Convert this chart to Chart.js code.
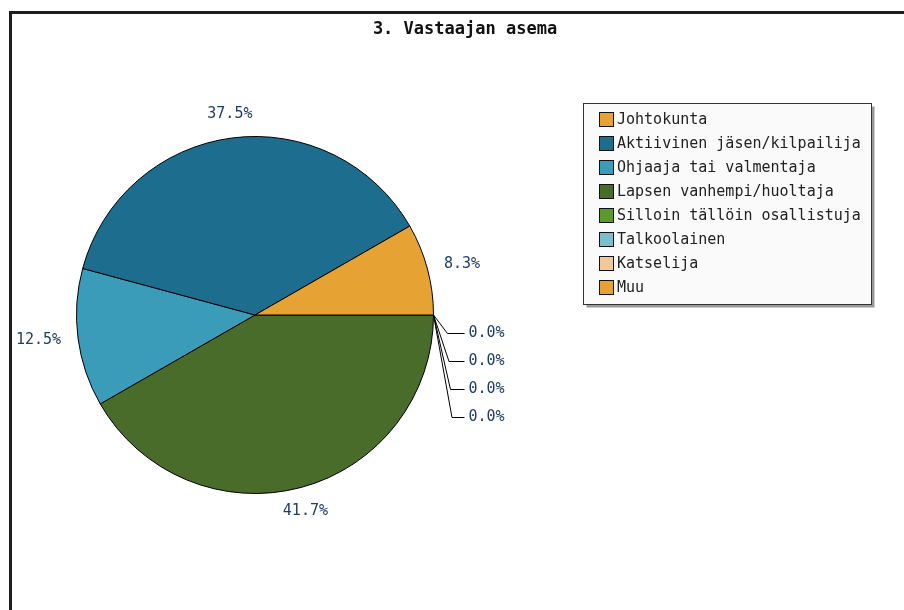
<!DOCTYPE html>
<html>
<head>
<meta charset="utf-8">
<script src="https://cdn.jsdelivr.net/npm/chart.js@4"></script>
<style>
html, body { margin: 0; padding: 0; background: #fff; }
#kaavio { display: block; }
</style>
</head>
<body>
<canvas id="kaavio" width="904" height="610"></canvas>
<script>
const otsikko = '3. Vastaajan asema';

const asemat = [
	'Johtokunta', 'Aktiivinen jäsen/kilpailija', 'Ohjaaja tai valmentaja',
	'Lapsen vanhempi/huoltaja', 'Silloin tällöin osallistuja', 'Talkoolainen',
	'Katselija', 'Muu'];

const osuudet = [8.3, 37.5, 12.5, 41.7, 0.0, 0.0, 0.0, 0.0];

const varit = ['#E6A232', '#1D6E8E', '#3A9CB8', '#4A6C2A', '#5C9A2E', '#7DBDCC', '#F2C89A', '#E8A030'];

// alkuperainen kuva kulkee vastapaivaan, Chart.js myotapaivaan -> kaannetaan jarjestys
const piirtoNimet = asemat.slice().reverse();
const piirtoArvot = osuudet.slice().reverse();
const piirtoVarit = varit.slice().reverse();

const fontti = '"DejaVu Sans Mono", monospace';

const kehys = {
	id: 'kehys',
	beforeDraw(chart) {
		const c = chart.ctx;
		c.save();
		c.fillStyle = '#fff';
		c.fillRect(0, 0, chart.width, chart.height);
		c.strokeStyle = '#1e1e1e';
		c.lineWidth = 3;
		c.beginPath();
		c.moveTo(10.5, chart.height);
		c.lineTo(10.5, 12.5);
		c.lineTo(chart.width, 12.5);
		c.stroke();
		c.fillStyle = '#111';
		c.font = 'bold 17px ' + fontti;
		c.textAlign = 'center';
		c.textBaseline = 'middle';
		c.fillText(otsikko, 465, 30);
		c.restore();
	}
};

const prosentit = {
	id: 'prosentit',
	afterDatasetsDraw(chart) {
		const c = chart.ctx;
		const meta = chart.getDatasetMeta(0);
		const arvot = chart.data.datasets[0].data;
		c.save();
		c.font = '15px ' + fontti;
		c.fillStyle = '#1f3d6b';
		c.strokeStyle = '#000';
		c.lineWidth = 1;
		let nollat = 0;
		meta.data.forEach((kaari, i) => {
			const p = kaari.getProps(['x', 'y', 'startAngle', 'endAngle', 'outerRadius'], true);
			const teksti = arvot[i].toFixed(1) + '%';
			const kulma = (p.startAngle + p.endAngle) / 2;
			const cos = Math.cos(kulma), sin = Math.sin(kulma);
			if (arvot[i] === 0) {
				const ex = p.x + p.outerRadius * cos;
				const ey = p.y + p.outerRadius * sin;
				const y = Math.round(ey + 18 + nollat * 28) + 0.5;
				c.beginPath();
				c.moveTo(ex, ey);
				c.lineTo(ex + 14 + nollat * 1.5, y);
				c.lineTo(ex + 31, y);
				c.stroke();
				c.textAlign = 'left';
				c.textBaseline = 'middle';
				c.fillText(teksti, ex + 35, y);
				nollat++;
				return;
			}
			const r = p.outerRadius + 17;
			c.textAlign = cos > 0.3 ? 'left' : (cos < -0.3 ? 'right' : 'center');
			c.textBaseline = sin > 0.3 ? 'top' : (sin < -0.3 ? 'bottom' : 'middle');
			c.fillText(teksti, p.x + r * cos, p.y + r * sin);
		});
		c.restore();
	}
};

const selite = {
	id: 'selite',
	afterDraw(chart) {
		const c = chart.ctx;
		const x = 583.5, y = 103.5, w = 288, h = 201;
		c.save();
		c.fillStyle = '#9a9a9a';
		c.fillRect(x + 3, y + 3, w, h);
		c.fillStyle = '#fafafa';
		c.fillRect(x, y, w, h);
		c.strokeStyle = '#333';
		c.lineWidth = 1;
		c.strokeRect(x, y, w, h);
		c.font = '15px ' + fontti;
		c.textAlign = 'left';
		c.textBaseline = 'middle';
		asemat.forEach((nimi, i) => {
			const ry = 112 + i * 24;
			c.fillStyle = varit[i];
			c.fillRect(599, ry, 15, 15);
			c.strokeStyle = '#111';
			c.strokeRect(599.5, ry + 0.5, 14, 14);
			c.fillStyle = '#222';
			c.fillText(nimi, 617, ry + 8);
		});
		c.restore();
	}
};

new Chart(document.getElementById('kaavio').getContext('2d'), {
	type: 'pie',
	data: {
		labels: piirtoNimet,
		datasets: [{
			data: piirtoArvot,
			backgroundColor: piirtoVarit,
			borderColor: '#000',
			borderWidth: 1
		}]
	},
	options: {
		responsive: false,
		animation: false,
		devicePixelRatio: 1,
		rotation: 90,
		layout: { padding: { left: 76, top: 136, right: 470, bottom: 116 } },
		plugins: {
			legend: { display: false },
			tooltip: { enabled: false },
			title: { display: false }
		}
	},
	plugins: [kehys, prosentit, selite]
});
</script>
</body>
</html>
